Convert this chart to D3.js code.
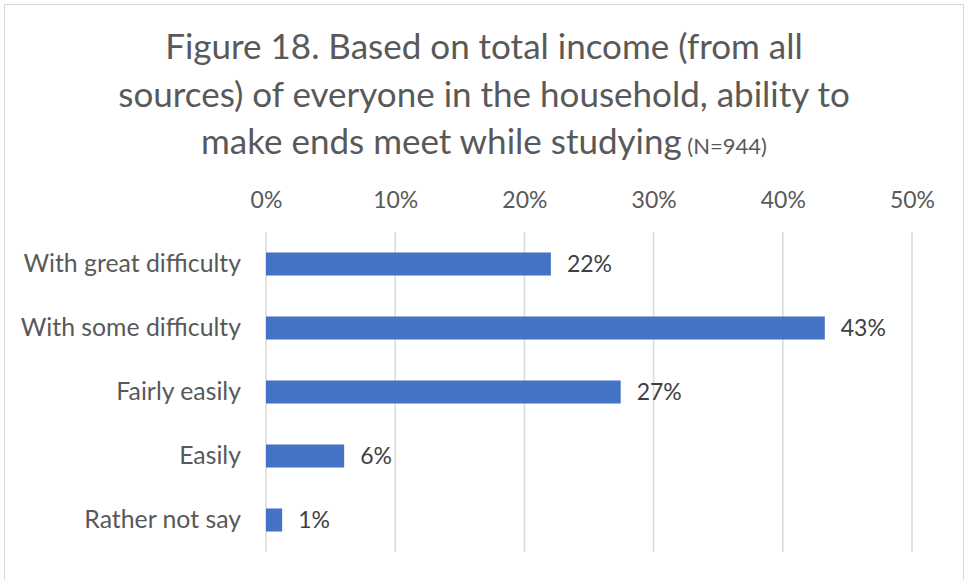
<!DOCTYPE html>
<html><head><meta charset="utf-8">
<script src="https://cdn.jsdelivr.net/npm/d3@7"></script>
<style>
html,body{margin:0;padding:0;background:#fff;}
svg{display:block;font-family:Lato,"Open Sans",sans-serif;}
</style></head>
<body>
<svg id="chart" width="966" height="580"></svg>
<script>
const categories = ["With great difficulty","With some difficulty","Fairly easily","Easily","Rather not say"];
const values = [22.05, 43.25, 27.45, 6.05, 1.25];
const valueLabels = ["22%","43%","27%","6%","1%"];
const tickValues = [0,10,20,30,40,50];
const titleLines = ["Figure 18. Based on total income (from all","sources) of everyone in the household, ability to","make ends meet while studying"];
const titleNote = "(N=944)";

const svg = d3.select("#chart");
const textColor = "#595959";

svg.append("rect").attr("x",4.5).attr("y",4.5).attr("width",959).attr("height",590)
  .attr("fill","#fff").attr("stroke","#d9d9d9").attr("stroke-width",1);

const x = d3.scaleLinear().domain([0,50]).range([266,912]);
const y = d3.scaleBand().domain(categories).range([232,552]).paddingInner(0.64).paddingOuter(0.32);

// title
const title = svg.append("g").attr("fill",textColor);
const baselines = [59,107,154];
titleLines.forEach((t,i)=>{
  const tx = title.append("text").attr("x",484).attr("y",baselines[i]).attr("text-anchor","middle")
    .style("font-size","35px");
  tx.append("tspan").text(t);
  if(i===2){ tx.append("tspan").text(" "+titleNote).style("font-size","22px"); }
});

// grid
svg.append("g").selectAll("line").data(tickValues).join("line")
  .attr("x1",d=>x(d)).attr("x2",d=>x(d)).attr("y1",232).attr("y2",552)
  .attr("stroke","#d9d9d9").attr("stroke-width",1.5);

// top axis labels
const ax = svg.append("g").attr("transform","translate(0,200)")
  .call(d3.axisTop(x).tickValues(tickValues).tickFormat(d=>d+"%").tickSize(0).tickPadding(0));
ax.select(".domain").remove();
ax.selectAll("text").attr("fill",textColor).style("font-size","23px").style("font-family","Lato").attr("dy","0.35em");

// bars
svg.append("g").selectAll("rect").data(values).join("rect")
  .attr("x",x(0)).attr("y",(d,i)=>y(categories[i]))
  .attr("width",d=>x(d)-x(0)).attr("height",y.bandwidth()).attr("fill","#4472C4");

// value labels
svg.append("g").selectAll("text").data(values).join("text")
  .attr("x",d=>x(d)+16).attr("y",(d,i)=>y(categories[i])+y.bandwidth()/2).attr("dy","0.35em")
  .attr("fill","#404040").style("font-size","23px").text((d,i)=>valueLabels[i]);

// category axis
const ay = svg.append("g").attr("transform","translate(241,0)")
  .call(d3.axisLeft(y).tickSize(0).tickPadding(0));
ay.select(".domain").remove();
ay.selectAll("text").attr("fill",textColor).style("font-size","24.8px").style("font-family","Lato");
</script>
</body></html>
